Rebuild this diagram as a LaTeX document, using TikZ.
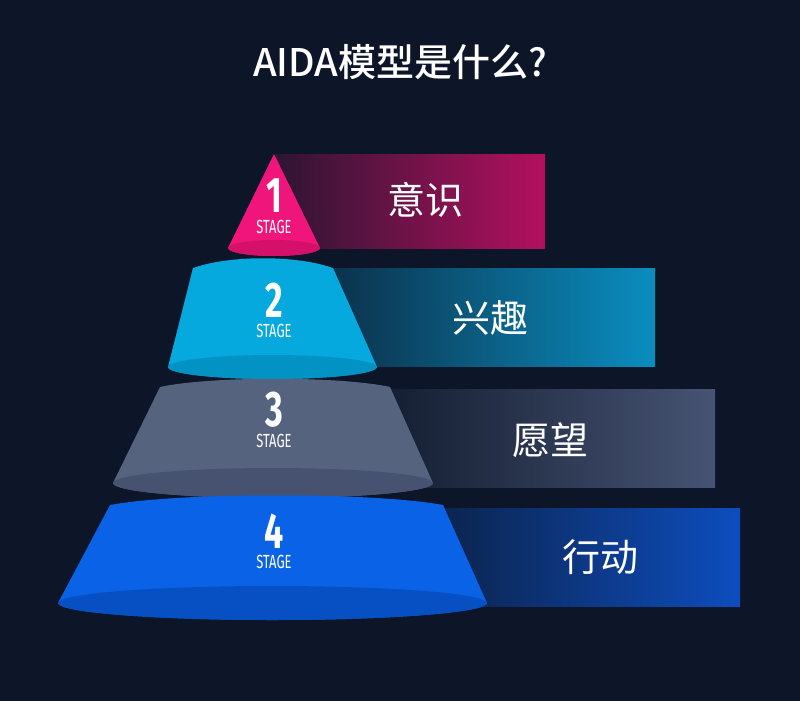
\documentclass[tikz,border=0pt]{standalone}
\usepackage{fontspec}
\setmainfont{Fira Sans}
\newfontfamily\cjk{Noto Sans CJK SC}
\newfontfamily\cjkm{Noto Sans CJK SC Medium}
\usetikzlibrary{calc}
\definecolor{bg}{HTML}{0C1628}
\definecolor{cA}{HTML}{F0157A}\definecolor{dA}{HTML}{D4106A}\definecolor{bA}{HTML}{B3105F}
\definecolor{cB}{HTML}{05A9DD}\definecolor{dB}{HTML}{0392C4}\definecolor{bB}{HTML}{0A8EC0}
\definecolor{cC}{HTML}{56637F}\definecolor{dC}{HTML}{465270}\definecolor{bC}{HTML}{465372}
\definecolor{cD}{HTML}{0A62E6}\definecolor{dD}{HTML}{0650C4}\definecolor{bD}{HTML}{0D4DBE}
\tikzset{
 lbl/.style={text=white,font=\cjk\fontsize{38}{38}\selectfont},
 num/.style={text=white,inner sep=0pt,font=\bfseries\fontsize{50}{50}\selectfont,xscale=0.68},
 stg/.style={text=white,inner sep=0pt,font=\fontsize{19}{19}\selectfont,xscale=0.68},
}
\begin{document}
\begin{tikzpicture}[x=1pt,y=-1pt]
\fill[bg] (0,0) rectangle (800,701);
\useasboundingbox (0,0) rectangle (800,701);
\node[text=white,font=\cjkm\fontsize{38}{38}\selectfont] (title) at (400,62) {AIDA模型是什么?};
% bars
\shade[left color=bg!80!bA,right color=bA] (275,154) rectangle (545,248);
\shade[left color=bg!80!bB,right color=bB] (318,268) rectangle (655,366);
\shade[left color=bg!85!bC,right color=bC] (390,389) rectangle (715,487);
\shade[left color=bg!75!bD,right color=bD] (440,508) rectangle (740,606);
\node[lbl] (l1) at (425,200) {意识};
\node[lbl] (l2) at (490,318) {兴趣};
\node[lbl] (l3) at (550,440) {愿望};
\node[lbl] (l4) at (600,557) {行动};
% level 1
\fill[cA] (274,154) -- (320,248) arc(0:180:46 and 8) -- cycle;
\begin{scope}
\clip (274,154) -- (320,248) arc(0:180:46 and 8) -- cycle;
\fill[dA] (274,248) ellipse (46 and 8);
\end{scope}
% level 2
\def\body{(193,268) .. controls (230,255) and (296,255) .. (333,268) -- (377,367) arc(0:180:104.5 and 12) -- cycle}
\fill[cB] \body;
\begin{scope}\clip \body; \fill[dB] (272.5,367) ellipse (104.5 and 12);\end{scope}
% level 3
\def\body{(160,387) .. controls (210,376) and (340,376) .. (390,387) -- (433,483) arc(0:180:160 and 15) -- cycle}
\fill[cC] \body;
\begin{scope}\clip \body; \fill[dC] (273,483) ellipse (160 and 15);\end{scope}
% level 4
\def\body{(110,505) .. controls (180,492) and (373,492) .. (443,505) -- (487,603) arc(0:180:214.5 and 17) -- cycle}
\fill[cD] \body;
\begin{scope}\clip \body; \fill[dD] (272.5,603) ellipse (214.5 and 17);\end{scope}
% stage texts
\node[num] (n1) at (274,196) {1}; \node[stg] (s1) at (274,227) {STAGE};
\node[num] (n2) at (274,300) {2}; \node[stg] (s2) at (274,331) {STAGE};
\node[num] (n3) at (274,410) {3}; \node[stg] (s3) at (274,441) {STAGE};
\node[num] (n4) at (274,531) {4}; \node[stg] (s4) at (274,562) {STAGE};
\end{tikzpicture}
\end{document}
